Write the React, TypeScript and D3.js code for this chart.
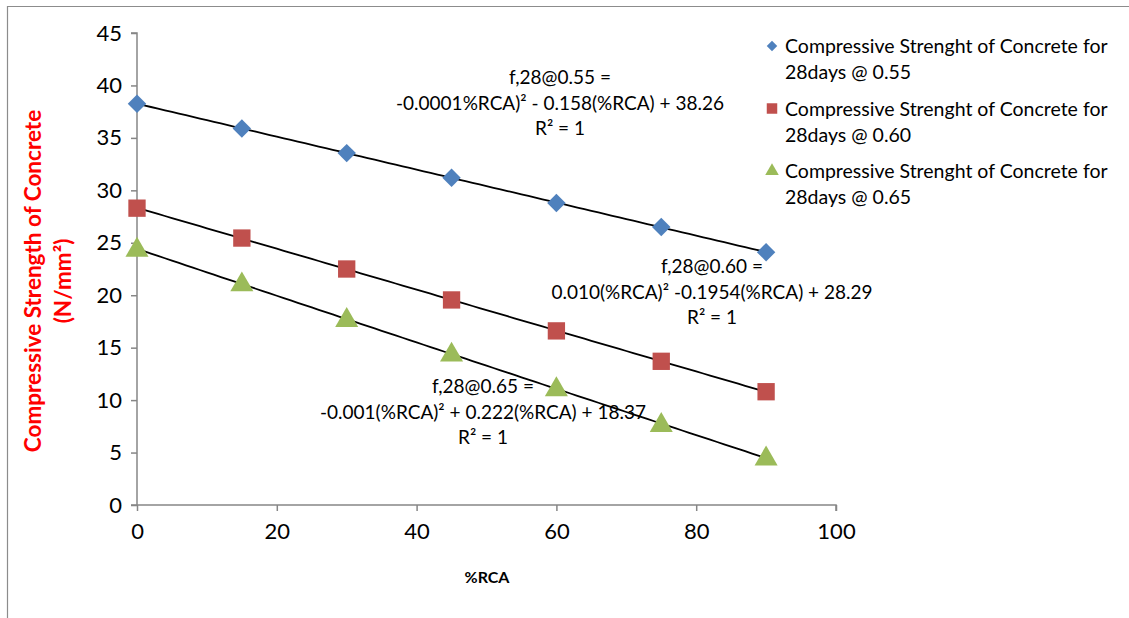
import { useEffect, useRef } from 'react';
import * as d3 from 'd3';

// %RCA replacement levels
const rcaLevels = [0, 15, 30, 45, 60, 75, 90];

// 28 day compressive strength (N/mm2) for each w/c ratio
const strength055 = [38.26, 35.9, 33.55, 31.2, 28.8, 26.5, 24.1];
const strength060 = [28.3, 25.45, 22.5, 19.55, 16.6, 13.7, 10.8];
const strength065 = [24.4, 21.1, 17.7, 14.4, 11.1, 7.7, 4.5];

const seriesNames = [
    ['Compressive Strenght of Concrete for', '28days @ 0.55'],
    ['Compressive Strenght of Concrete for', '28days @ 0.60'],
    ['Compressive Strenght of Concrete for', '28days @ 0.65'],
];

const equationLabels = [
    ['f,28@0.55 =', '-0.0001%RCA)\u00b2 - 0.158(%RCA) + 38.26', 'R\u00b2 = 1'],
    ['f,28@0.60 =', '0.010(%RCA)\u00b2 -0.1954(%RCA) + 28.29', 'R\u00b2 = 1'],
    ['f,28@0.65 =', '-0.001(%RCA)\u00b2 + 0.222(%RCA) + 18.37', 'R\u00b2 = 1'],
];

const xTicks = [0, 20, 40, 60, 80, 100];
const yTicks = [0, 5, 10, 15, 20, 25, 30, 35, 40, 45];

const colors = ['#4F81BD', '#C0504D', '#9BBB59'];

// least squares fit of a 2nd order polynomial, like Excel's trendline
function polyFit(xs: number[], ys: number[]) {
    const s = [0, 0, 0, 0, 0];
    const t = [0, 0, 0];
    xs.forEach((x, i) => {
        for (let k = 0; k < 5; k++) s[k] += Math.pow(x, k);
        for (let k = 0; k < 3; k++) t[k] += Math.pow(x, k) * ys[i];
    });
    const m = [
        [s[0], s[1], s[2], t[0]],
        [s[1], s[2], s[3], t[1]],
        [s[2], s[3], s[4], t[2]],
    ];
    for (let c = 0; c < 3; c++) {
        for (let r = c + 1; r < 3; r++) {
            const f = m[r][c] / m[c][c];
            for (let k = c; k < 4; k++) m[r][k] -= f * m[c][k];
        }
    }
    const a = [0, 0, 0];
    for (let r = 2; r >= 0; r--) {
        let v = m[r][3];
        for (let k = r + 1; k < 3; k++) v -= m[r][k] * a[k];
        a[r] = v / m[r][r];
    }
    return (x: number) => a[0] + a[1] * x + a[2] * x * x;
}

const App = () => {
    const svgRef = useRef<SVGSVGElement | null>(null);

    useEffect(() => {
        if (!svgRef.current) return;
        const svg = d3.select(svgRef.current);
        svg.selectAll('*').remove();

        const width = 1129;
        const height = 618;
        const font = 'Lato, "Open Sans", sans-serif';

        svg.append('rect').attr('width', width).attr('height', height).attr('fill', '#fff');

        // outer chart frame (only top and left edges are visible)
        svg.append('path')
            .attr('d', `M7.5,${height}V6.5H${width}`)
            .attr('fill', 'none')
            .attr('stroke', '#8c8c8c')
            .attr('stroke-width', 1.2);

        const x = d3.scaleLinear().domain([0, 100]).range([137, 836]);
        const y = d3.scaleLinear().domain([0, 45]).range([505, 33]);

        // axes
        const xAxis = svg.append('g')
            .attr('transform', `translate(0,${y(0)})`)
            .call(d3.axisBottom(x).tickValues(xTicks).tickSize(6).tickPadding(12).tickFormat(d3.format('d')));
        const yAxis = svg.append('g')
            .attr('transform', `translate(${x(0)},0)`)
            .call(d3.axisLeft(y).tickValues(yTicks).tickSize(6).tickPadding(9).tickFormat(d3.format('d')));

        [xAxis, yAxis].forEach(a => {
            a.select('.domain').attr('stroke', '#868686').attr('stroke-width', 1.5);
            a.selectAll('.tick line').attr('stroke', '#868686').attr('stroke-width', 1.5);
            a.selectAll('.tick text')
                .attr('fill', '#000')
                .attr('font-family', font)
                .attr('font-size', 22);
        });
        xAxis.select('.domain').attr('d', `M${x(0) - 6},0H${x(100)}V6`);
        yAxis.select('.domain').attr('d', `M-6,${y(45)}H0V${y(0)}`);

        const allSeries = [strength055, strength060, strength065];

        // polynomial trendlines
        allSeries.forEach(vals => {
            const fit = polyFit(rcaLevels, vals);
            const pts = d3.range(0, 90.01, 1).map(v => [v, fit(v)] as [number, number]);
            svg.append('path')
                .datum(pts)
                .attr('fill', 'none')
                .attr('stroke', '#000')
                .attr('stroke-width', 1.8)
                .attr('d', d3.line<[number, number]>().x(d => x(d[0])).y(d => y(d[1])));
        });

        // diamond = rotated square, as in Excel
        const symbols = [d3.symbolSquare, d3.symbolSquare, d3.symbolTriangle];
        const symbolSizes = [170, 300, 230];
        const rotations = [45, 0, 0];

        // markers
        allSeries.forEach((vals, si) => {
            svg.append('g')
                .selectAll('path')
                .data(vals)
                .join('path')
                .attr('transform', (d, i) =>
                    `translate(${x(rcaLevels[i])},${y(d) + (si === 2 ? 1 : 0)}) rotate(${rotations[si]})`)
                .attr('d', d3.symbol().type(symbols[si]).size(symbolSizes[si])())
                .attr('fill', colors[si]);
        });

        // trendline equation labels
        const eqPos = [
            { cx: 560, top: 84 },
            { cx: 712, top: 273 },
            { cx: 483, top: 393 },
        ];
        equationLabels.forEach((lines, i) => {
            svg.append('text')
                .attr('font-family', font)
                .attr('font-size', 19)
                .attr('text-anchor', 'middle')
                .attr('fill', '#000')
                .selectAll('tspan')
                .data(lines)
                .join('tspan')
                .attr('x', eqPos[i].cx)
                .attr('y', (d, k) => eqPos[i].top + k * 25.5)
                .text(d => d);
        });

        // legend
        const legend = svg.append('g').attr('font-family', font).attr('font-size', 19.5);
        const legendSizes = [55, 110, 80];
        seriesNames.forEach((lines, i) => {
            const top = 46 + i * 62.5;
            legend.append('path')
                .attr('transform', `translate(772,${top}) rotate(${rotations[i]})`)
                .attr('d', d3.symbol().type(symbols[i]).size(legendSizes[i])())
                .attr('fill', colors[i]);
            legend.append('text')
                .selectAll('tspan')
                .data(lines)
                .join('tspan')
                .attr('x', 785)
                .attr('y', (d, k) => top + 7 + k * 26)
                .text(d => d);
        });

        // axis titles
        const yTitle = svg.append('text')
            .attr('transform', 'translate(0,281) rotate(-90)')
            .attr('font-family', font)
            .attr('font-weight', 'bold')
            .attr('font-size', 22.5)
            .attr('fill', '#FF0000')
            .attr('text-anchor', 'middle');
        yTitle.append('tspan').attr('x', 0).attr('y', 41).text('Compressive Strength of Concrete');
        yTitle.append('tspan').attr('x', 0).attr('y', 71).text('(N/mm\u00b2)');

        svg.append('text')
            .attr('x', 487)
            .attr('y', 583)
            .attr('font-family', font)
            .attr('font-weight', 'bold')
            .attr('font-size', 16)
            .attr('text-anchor', 'middle')
            .text('%RCA');
    }, []);

    return (
        <svg
            ref={svgRef}
            width={1129}
            height={618}
            style={{ position: 'absolute', left: 0, top: 0 }}
        ></svg>
    );
};

export default App;
